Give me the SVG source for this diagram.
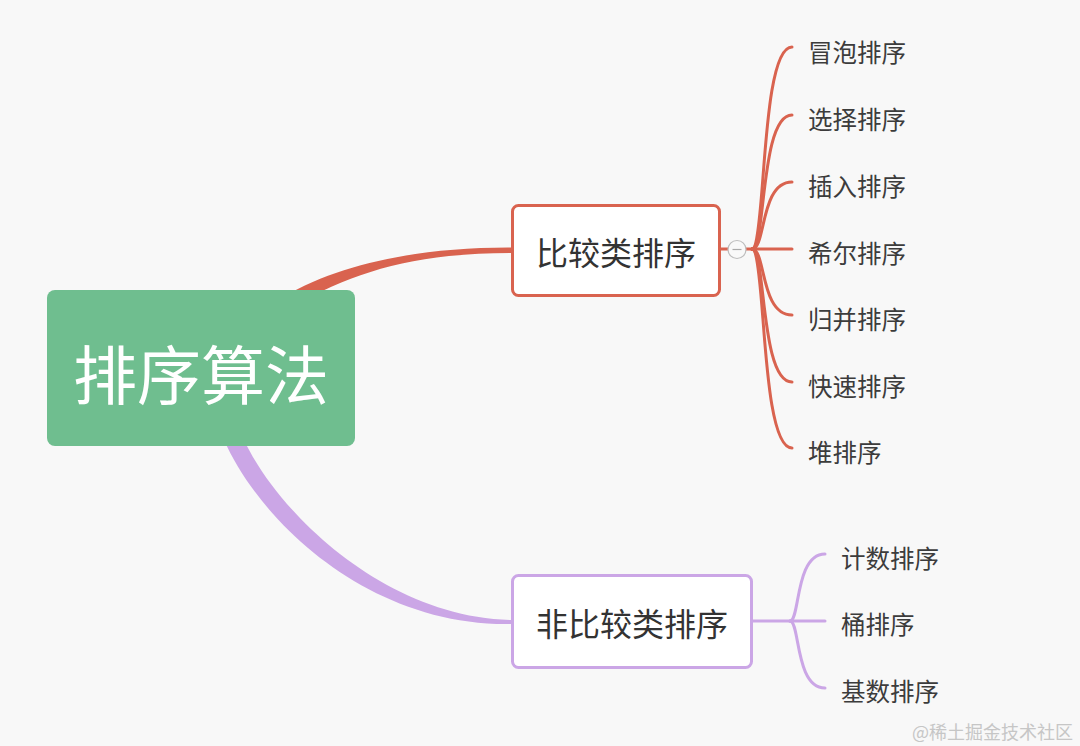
<svg xmlns="http://www.w3.org/2000/svg" width="1080" height="746" viewBox="0 0 1080 746">
<style>
.t{font-family:"Noto Sans CJK SC","Noto Sans",sans-serif;dominant-baseline:central}
.leaf{font-size:24.5px;fill:#3c3c3c}
.mid{font-size:32px;fill:#333;text-anchor:middle}
.red{fill:none;stroke:#d9634f;stroke-width:3;stroke-linecap:round}
.pur{fill:none;stroke:#cba6e6;stroke-width:3;stroke-linecap:round}
</style>
<rect width="1080" height="746" fill="#f8f8f8"/>
<g id="connectors">
<path d="M285,296 C340,264 420,247 512,247.5 L512,253 C420,253 360,270 305,300 Z" fill="#d9634f"/>
<path d="M224,440 C262,525 372,627 512,624 L512,620 C388,618 280,516 244,440 Z" fill="#cba6e6"/>
<line class="red" x1="719" y1="249" x2="728" y2="249"/>
<line class="red" x1="746" y1="249" x2="756" y2="249"/>
<path class="red" d="M752,249 C766,249 760,47 792,47"/>
<path class="red" d="M752,249 C766,249 760,115 792,115"/>
<path class="red" d="M752,249 C766,249 760,182 792,182"/>
<path class="red" d="M752,249 L792,249"/>
<path class="red" d="M752,249 C766,249 760,315 792,315"/>
<path class="red" d="M752,249 C766,249 760,382 792,382"/>
<path class="red" d="M752,249 C766,249 760,448 792,448"/>
<line class="pur" x1="751" y1="621" x2="792" y2="621"/>
<path class="pur" d="M790,621 C800,621 795,554 825,554"/>
<path class="pur" d="M790,621 L825,621"/>
<path class="pur" d="M790,621 C800,621 795,688 825,688"/>
</g>
<g id="root">
<rect x="47" y="290" width="308" height="156" rx="8" fill="#6fbe8f"/>
<text class="t" x="201" y="371" font-size="64" fill="#fff" text-anchor="middle">排序算法</text>
</g>
<g id="compare">
<rect x="512.5" y="205.5" width="207" height="90" rx="6" fill="#fff" stroke="#d9634f" stroke-width="3"/>
<text class="t mid" x="616" y="251">比较类排序</text>
</g>
<g id="collapse">
<circle cx="737" cy="249.5" r="9" fill="#f9f9f9" stroke="#bdbdbd" stroke-width="1.2"/>
<line x1="732.5" y1="249.5" x2="741.5" y2="249.5" stroke="#aaa" stroke-width="1.2"/>
</g>
<g id="noncompare">
<rect x="512.5" y="575.5" width="239" height="92" rx="6" fill="#fff" stroke="#cba6e6" stroke-width="3"/>
<text class="t mid" x="632" y="622">非比较类排序</text>
</g>
<g id="leaf-bubble"><text class="t leaf" x="808" y="51">冒泡排序</text></g>
<g id="leaf-select"><text class="t leaf" x="808" y="118">选择排序</text></g>
<g id="leaf-insert"><text class="t leaf" x="808" y="185">插入排序</text></g>
<g id="leaf-shell"><text class="t leaf" x="808" y="252">希尔排序</text></g>
<g id="leaf-merge"><text class="t leaf" x="808" y="318">归并排序</text></g>
<g id="leaf-quick"><text class="t leaf" x="808" y="385">快速排序</text></g>
<g id="leaf-heap"><text class="t leaf" x="808" y="451">堆排序</text></g>
<g id="leaf-count"><text class="t leaf" x="841" y="557">计数排序</text></g>
<g id="leaf-bucket"><text class="t leaf" x="841" y="623">桶排序</text></g>
<g id="leaf-radix"><text class="t leaf" x="841" y="690">基数排序</text></g>
<text class="t" x="1073" y="731" font-size="18" fill="#c6c6c6" text-anchor="end">@稀土掘金技术社区</text>
</svg>
